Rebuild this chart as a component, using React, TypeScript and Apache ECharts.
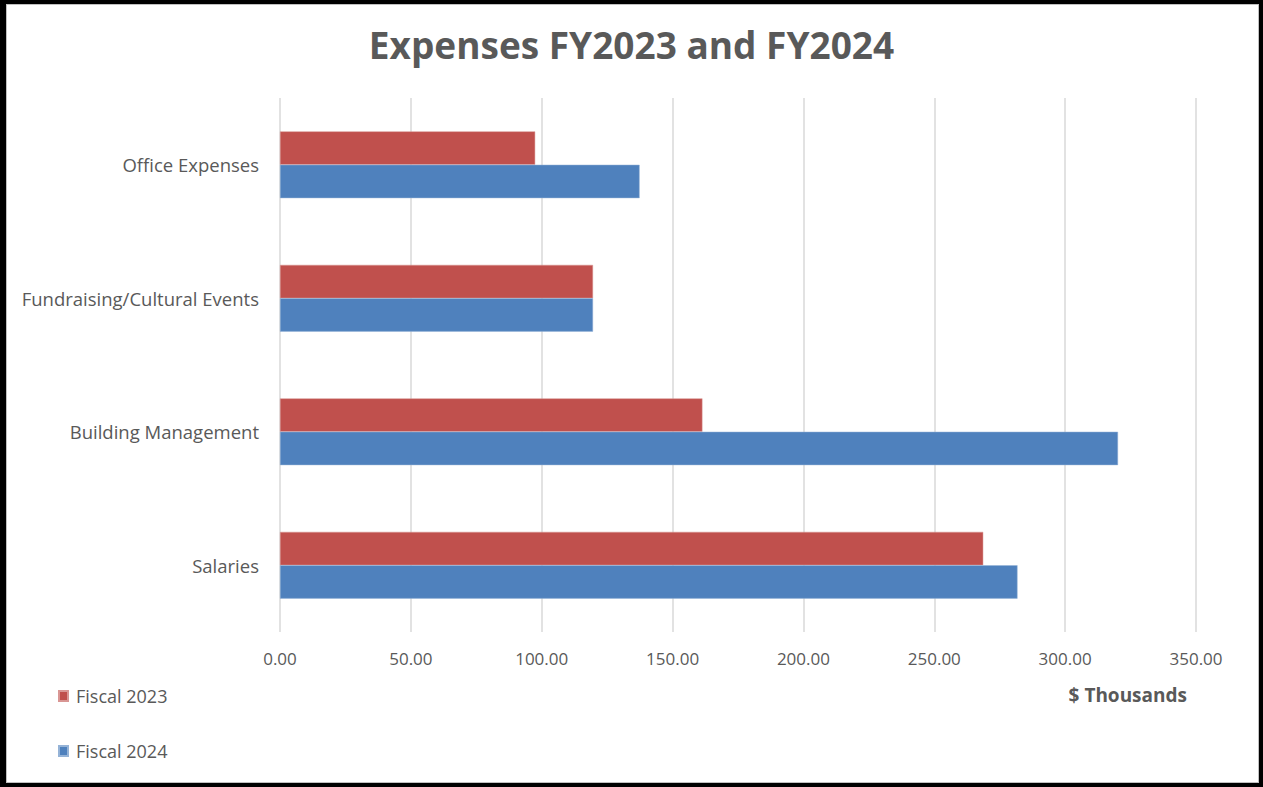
import React, { useEffect, useRef } from "react";
import * as echarts from "echarts";

const categories = ["Office Expenses", "Fundraising/Cultural Events", "Building Management", "Salaries"];
const fiscal2023 = [97.5, 119.6, 161.4, 268.7];
const fiscal2024 = [137.4, 119.6, 320.2, 281.8];
const seriesNames = ["Fiscal 2023", "Fiscal 2024"];
const xMin = 0;
const xMax = 350;
const xInterval = 50;

const FONT = "'Open Sans', 'Noto Sans', sans-serif";
const GRAY = "#595959";

export default function App() {
  const ref = useRef<HTMLDivElement>(null);
  useEffect(() => {
    document.body.style.margin = "0";
    const chart = echarts.init(ref.current!, null, { renderer: "svg" });
    chart.setOption({
      animation: false,
      backgroundColor: "#ffffff",
      title: {
        text: "Expenses FY2023 and FY2024",
        left: "center",
        top: 21,
        textStyle: { fontFamily: FONT, fontSize: 37, fontWeight: "bold", color: GRAY },
      },
      legend: {
        data: seriesNames,
        orient: "vertical",
        left: 58,
        top: 686,
        padding: 0,
        itemWidth: 9,
        itemHeight: 10,
        itemGap: 35,
        icon: "rect",
        textStyle: { fontFamily: FONT, fontSize: 18, color: GRAY, lineHeight: 20, padding: [0, 0, 0, 3] },
      },
      graphic: [
        {
          type: "text",
          right: 76,
          top: 685,
          style: { text: "$ Thousands", font: `bold 19px ${FONT}`, fill: GRAY },
        },
      ],
      grid: { left: 280, right: 67, top: 98, bottom: 155, containLabel: false },
      xAxis: {
        type: "value",
        min: xMin,
        max: xMax,
        interval: xInterval,
        axisLine: { show: false },
        axisTick: { show: false },
        axisLabel: {
          margin: 18,
          fontFamily: FONT,
          fontSize: 17,
          color: GRAY,
          formatter: (v: number) => v.toFixed(2),
        },
        splitLine: { show: true, lineStyle: { color: "#d9d9d9", width: 1.5 } },
      },
      yAxis: {
        type: "category",
        data: categories,
        inverse: true,
        axisLine: { show: false },
        axisTick: { show: false },
        axisLabel: { margin: 21, fontFamily: FONT, fontSize: 18.5, color: GRAY },
      },
      series: [
        {
          name: seriesNames[0],
          type: "bar",
          data: fiscal2023,
          barGap: "0%",
          barCategoryGap: "50%",
          itemStyle: { color: "#C0504D", borderColor: "#d99694", borderWidth: 0.5 },
        },
        {
          name: seriesNames[1],
          type: "bar",
          data: fiscal2024,
          barGap: "0%",
          barCategoryGap: "50%",
          itemStyle: { color: "#4F81BD", borderColor: "#95b3d7", borderWidth: 0.5 },
        },
      ],
    });
    return () => chart.dispose();
  }, []);
  return (
    <div style={{ position: "absolute", left: 0, top: 0, width: 1263, height: 787 }}>
      <div ref={ref} style={{ width: 1263, height: 787 }} />
      <div
        style={{
          position: "absolute",
          left: 0,
          top: 0,
          width: 1263,
          height: 787,
          boxSizing: "border-box",
          borderTop: "4px solid #000",
          borderLeft: "6px solid #000",
          borderRight: "4px solid #000",
          borderBottom: "4px solid #000",
          boxShadow: "inset 0 0 0 1px #c0c0c0",
          pointerEvents: "none",
        }}
      />
    </div>
  );
}
